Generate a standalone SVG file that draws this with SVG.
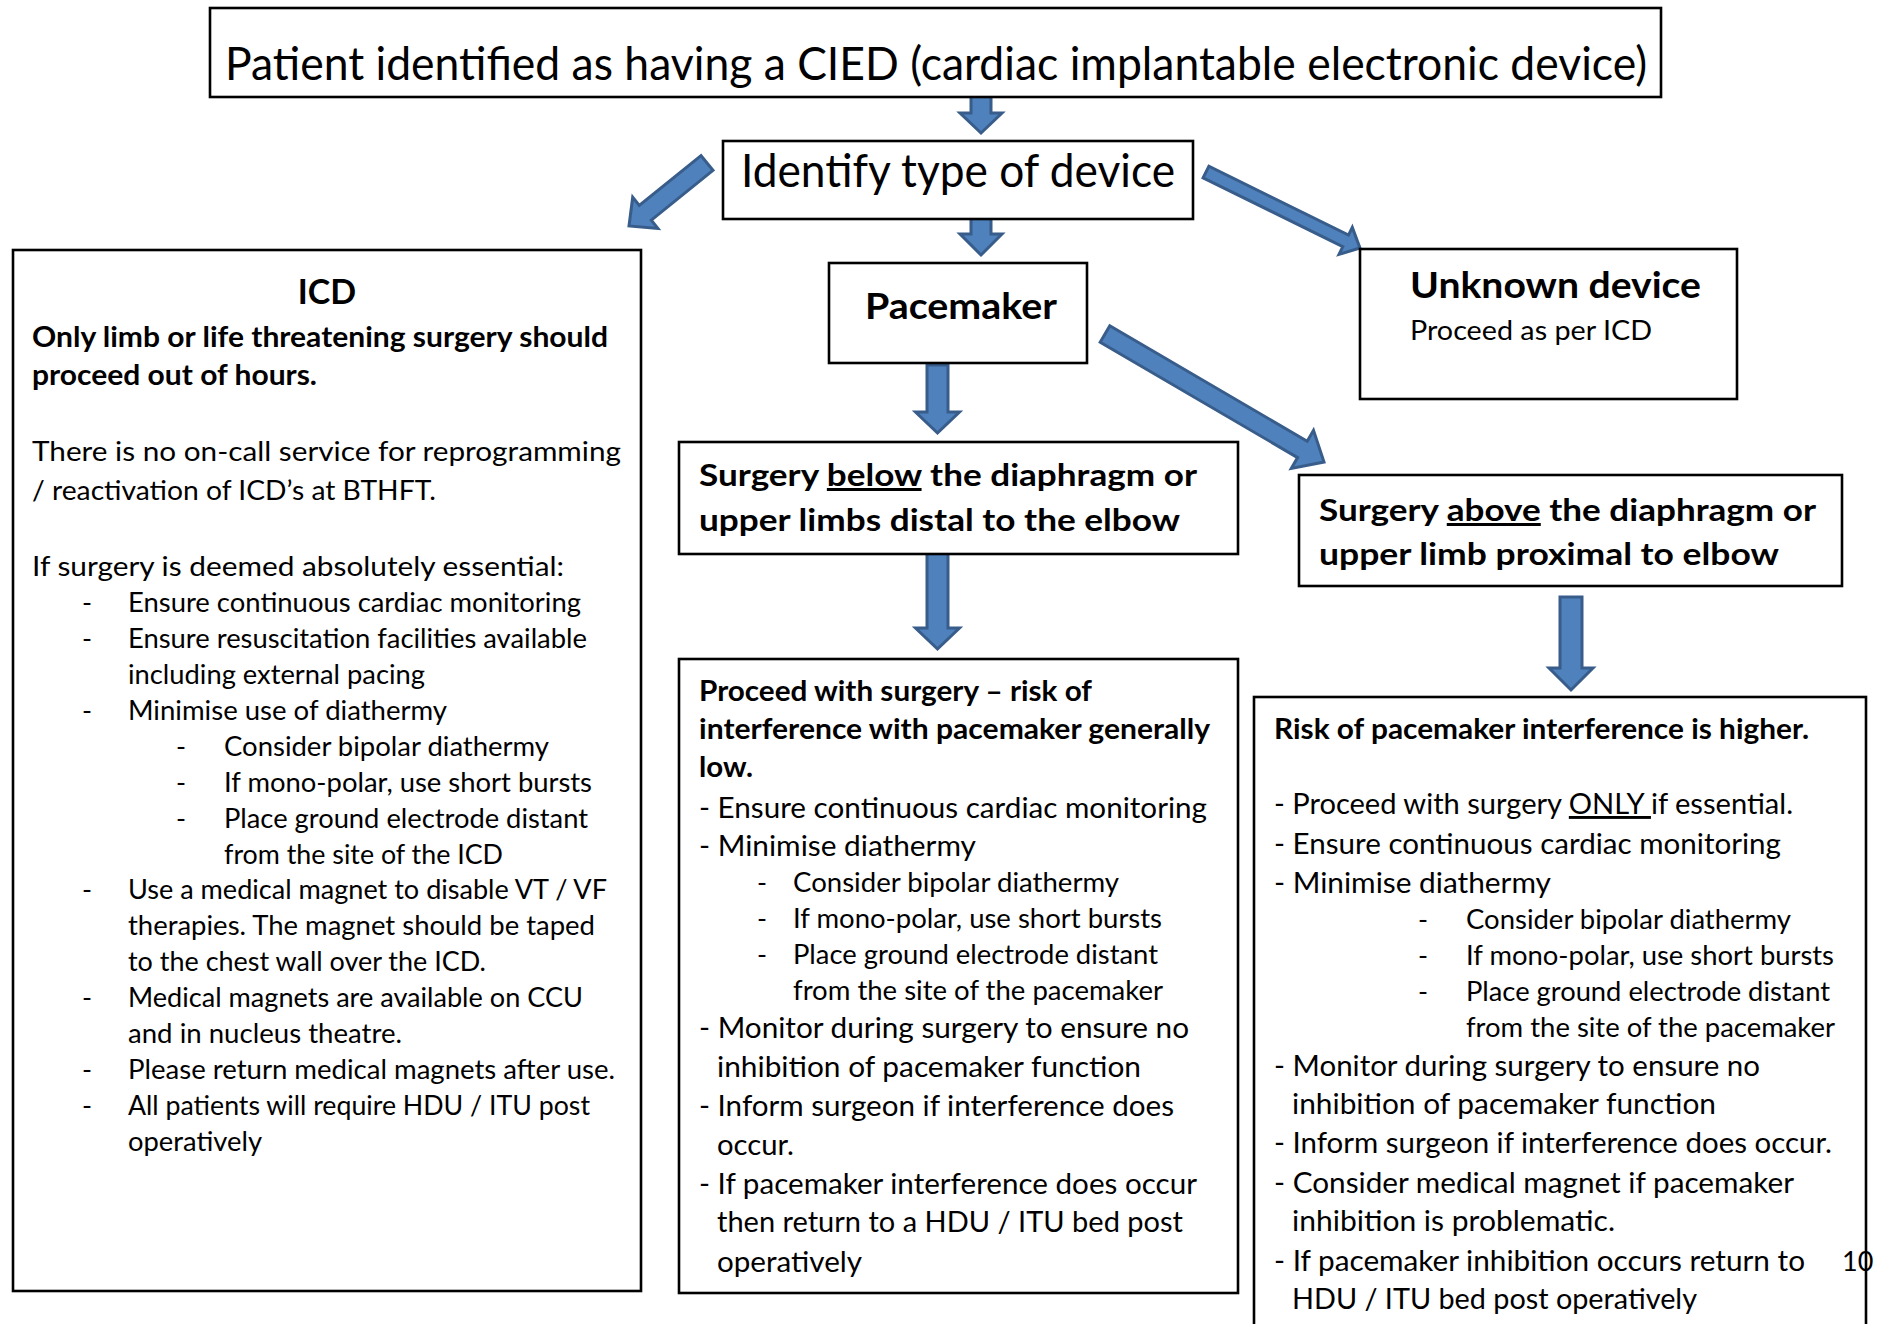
<svg xmlns="http://www.w3.org/2000/svg" width="1878" height="1324" viewBox="0 0 1878 1324">
<style>
text{font-family:Lato,"Open Sans",sans-serif;fill:#000}
.box{fill:#fff;stroke:#000;stroke-width:2.6}
.arr{fill:#4F81BD;stroke:#385D8A;stroke-width:3;stroke-linejoin:miter}
.t1{font-size:47px}
.hb{font-size:37px;font-weight:bold}
.sb{font-size:30px;font-weight:bold}
.ib{font-size:29px;font-weight:bold}
.ir{font-size:27px}
.pr{font-size:29px}
.pb{font-size:28px;font-weight:bold}
.u{text-decoration:underline}
</style>
<rect width="1878" height="1324" fill="#fff"/>
<g id="connectors">
<polygon class="arr" points="971,96 991,96 991,113 1002,113 981,133 960,113 971,113"/>
<polygon class="arr" points="971,218 991,218 991,234 1002,234 981,255 960,234 971,234"/>
<polygon class="arr" points="927,365 948,365 948,412 959.5,412 937.5,433 915.5,412 927,412"/>
<polygon class="arr" points="927,549 948,549 948,628 959.5,628 937.5,649 915.5,628 927,628"/>
<polygon class="arr" points="1560,597 1582,597 1582,668 1593,668 1571,690 1549,668 1560,668"/>
<polygon class="arr" points="701,155.6 639.3,205.4 632.7,197.2 629,226 657.9,228.4 651.3,220.2 713,170.4"/>
<polygon class="arr" points="1203.1,177.8 1342.8,246.7 1339,254.4 1360,248 1352.3,227.4 1348.5,235.1 1208.9,166.2"/>
<polygon class="arr" points="1100.2,342.2 1297.6,457.6 1291.3,468.4 1324,462 1313.5,430.4 1307.2,441.2 1109.8,325.8"/>
</g>
<g id="title">
<rect class="box" x="210" y="8" width="1451" height="89"/>
<text class="t1" x="225" y="80" textLength="1422" lengthAdjust="spacingAndGlyphs">Patient identified as having a CIED (cardiac implantable electronic device)</text>
</g>
<g id="identify">
<rect class="box" x="723" y="141" width="470" height="78"/>
<text class="t1" x="741" y="187" textLength="434" lengthAdjust="spacingAndGlyphs">Identify type of device</text>
</g>
<g id="icd">
<rect class="box" x="13" y="250" width="628" height="1041"/>
<text x="327" y="304" font-size="34" font-weight="bold" text-anchor="middle">ICD</text>
<text class="ib" x="32" y="347" textLength="576" lengthAdjust="spacingAndGlyphs">Only limb or life threatening surgery should</text>
<text class="ib" x="32" y="385" textLength="285" lengthAdjust="spacingAndGlyphs">proceed out of hours.</text>
<text class="ir" x="32" y="461" textLength="589" lengthAdjust="spacingAndGlyphs">There is no on-call service for reprogramming</text>
<text class="ir" x="32" y="500" textLength="404" lengthAdjust="spacingAndGlyphs">/ reactivation of ICD’s at BTHFT.</text>
<text class="ir" x="32" y="576" textLength="532" lengthAdjust="spacingAndGlyphs">If surgery is deemed absolutely essential:</text>
<g class="ir">
<text class="ir" x="82" y="612">-</text>
<text class="ir" x="82" y="648">-</text>
<text class="ir" x="82" y="720">-</text>
<text class="ir" x="176" y="756">-</text>
<text class="ir" x="176" y="792">-</text>
<text class="ir" x="176" y="828">-</text>
<text class="ir" x="82" y="899">-</text>
<text class="ir" x="82" y="1007">-</text>
<text class="ir" x="82" y="1079">-</text>
<text class="ir" x="82" y="1115">-</text>
</g>
<text class="ir" x="128" y="612" textLength="453" lengthAdjust="spacingAndGlyphs">Ensure continuous cardiac monitoring</text>
<text class="ir" x="128" y="648" textLength="459" lengthAdjust="spacingAndGlyphs">Ensure resuscitation facilities available</text>
<text class="ir" x="128" y="684" textLength="297" lengthAdjust="spacingAndGlyphs">including external pacing</text>
<text class="ir" x="128" y="720" textLength="319" lengthAdjust="spacingAndGlyphs">Minimise use of diathermy</text>
<text class="ir" x="224" y="756" textLength="325" lengthAdjust="spacingAndGlyphs">Consider bipolar diathermy</text>
<text class="ir" x="224" y="792" textLength="368" lengthAdjust="spacingAndGlyphs">If mono-polar, use short bursts</text>
<text class="ir" x="224" y="828" textLength="364" lengthAdjust="spacingAndGlyphs">Place ground electrode distant</text>
<text class="ir" x="224" y="864" textLength="279" lengthAdjust="spacingAndGlyphs">from the site of the ICD</text>
<text class="ir" x="128" y="899" textLength="479" lengthAdjust="spacingAndGlyphs">Use a medical magnet to disable VT / VF</text>
<text class="ir" x="128" y="935" textLength="467" lengthAdjust="spacingAndGlyphs">therapies. The magnet should be taped</text>
<text class="ir" x="128" y="971" textLength="358" lengthAdjust="spacingAndGlyphs">to the chest wall over the ICD.</text>
<text class="ir" x="128" y="1007" textLength="455" lengthAdjust="spacingAndGlyphs">Medical magnets are available on CCU</text>
<text class="ir" x="128" y="1043" textLength="274" lengthAdjust="spacingAndGlyphs">and in nucleus theatre.</text>
<text class="ir" x="128" y="1079" textLength="487" lengthAdjust="spacingAndGlyphs">Please return medical magnets after use.</text>
<text class="ir" x="128" y="1115" textLength="462" lengthAdjust="spacingAndGlyphs">All patients will require HDU / ITU post</text>
<text class="ir" x="128" y="1151" textLength="134" lengthAdjust="spacingAndGlyphs">operatively</text>
</g>
<g id="pacemaker">
<rect class="box" x="829" y="263" width="258" height="100"/>
<text class="hb" x="865" y="319" textLength="192" lengthAdjust="spacingAndGlyphs">Pacemaker</text>
</g>
<g id="unknown">
<rect class="box" x="1360" y="249" width="377" height="150"/>
<text class="hb" x="1410" y="298" textLength="291" lengthAdjust="spacingAndGlyphs">Unknown device</text>
<text class="ir" x="1410" y="340" textLength="242" lengthAdjust="spacingAndGlyphs">Proceed as per ICD</text>
</g>
<g id="below">
<rect class="box" x="679" y="442" width="559" height="112"/>
<text class="sb" x="699" y="486" textLength="498" lengthAdjust="spacingAndGlyphs">Surgery <tspan class="u">below</tspan> the diaphragm or</text>
<text class="sb" x="699" y="531" textLength="481" lengthAdjust="spacingAndGlyphs">upper limbs distal to the elbow</text>
</g>
<g id="above">
<rect class="box" x="1299" y="475" width="543" height="111"/>
<text class="sb" x="1319" y="521" textLength="497" lengthAdjust="spacingAndGlyphs">Surgery <tspan class="u">above</tspan> the diaphragm or</text>
<text class="sb" x="1319" y="565" textLength="460" lengthAdjust="spacingAndGlyphs">upper limb proximal to elbow</text>
</g>
<g id="proceed">
<rect class="box" x="679" y="659" width="559" height="634"/>
<text class="pb" x="699" y="701" textLength="393" lengthAdjust="spacingAndGlyphs">Proceed with surgery – risk of</text>
<text class="pb" x="699" y="739" textLength="511" lengthAdjust="spacingAndGlyphs">interference with pacemaker generally</text>
<text class="pb" x="699" y="777" textLength="54" lengthAdjust="spacingAndGlyphs">low.</text>
<text class="pr" x="699" y="818" textLength="508" lengthAdjust="spacingAndGlyphs">- Ensure continuous cardiac monitoring</text>
<text class="pr" x="699" y="856" textLength="277" lengthAdjust="spacingAndGlyphs">- Minimise diathermy</text>
<text class="ir" x="757" y="892">-</text>
<text class="ir" x="757" y="928">-</text>
<text class="ir" x="757" y="964">-</text>
<text class="ir" x="793" y="892" textLength="326" lengthAdjust="spacingAndGlyphs">Consider bipolar diathermy</text>
<text class="ir" x="793" y="928" textLength="369" lengthAdjust="spacingAndGlyphs">If mono-polar, use short bursts</text>
<text class="ir" x="793" y="964" textLength="365" lengthAdjust="spacingAndGlyphs">Place ground electrode distant</text>
<text class="ir" x="793" y="1000" textLength="370" lengthAdjust="spacingAndGlyphs">from the site of the pacemaker</text>
<text class="pr" x="699" y="1038" textLength="490" lengthAdjust="spacingAndGlyphs">- Monitor during surgery to ensure no</text>
<text class="pr" x="717" y="1077" textLength="424" lengthAdjust="spacingAndGlyphs">inhibition of pacemaker function</text>
<text class="pr" x="699" y="1116" textLength="475" lengthAdjust="spacingAndGlyphs">- Inform surgeon if interference does</text>
<text class="pr" x="717" y="1155" textLength="77" lengthAdjust="spacingAndGlyphs">occur.</text>
<text class="pr" x="699" y="1194" textLength="498" lengthAdjust="spacingAndGlyphs">- If pacemaker interference does occur</text>
<text class="pr" x="717" y="1232" textLength="466" lengthAdjust="spacingAndGlyphs">then return to a HDU / ITU bed post</text>
<text class="pr" x="717" y="1272" textLength="145" lengthAdjust="spacingAndGlyphs">operatively</text>
</g>
<g id="risk">
<rect class="box" x="1254" y="697" width="612" height="660"/>
<text class="pb" x="1274" y="739" textLength="535" lengthAdjust="spacingAndGlyphs">Risk of pacemaker interference is higher.</text>
<text class="pr" x="1274" y="814" textLength="519" lengthAdjust="spacingAndGlyphs">- Proceed with surgery <tspan class="u">ONLY </tspan>if essential.</text>
<text class="pr" x="1274" y="854" textLength="507" lengthAdjust="spacingAndGlyphs">- Ensure continuous cardiac monitoring</text>
<text class="pr" x="1274" y="893" textLength="277" lengthAdjust="spacingAndGlyphs">- Minimise diathermy</text>
<text class="ir" x="1418" y="929">-</text>
<text class="ir" x="1418" y="965">-</text>
<text class="ir" x="1418" y="1001">-</text>
<text class="ir" x="1466" y="929" textLength="325" lengthAdjust="spacingAndGlyphs">Consider bipolar diathermy</text>
<text class="ir" x="1466" y="965" textLength="368" lengthAdjust="spacingAndGlyphs">If mono-polar, use short bursts</text>
<text class="ir" x="1466" y="1001" textLength="364" lengthAdjust="spacingAndGlyphs">Place ground electrode distant</text>
<text class="ir" x="1466" y="1037" textLength="369" lengthAdjust="spacingAndGlyphs">from the site of the pacemaker</text>
<text class="pr" x="1274" y="1076" textLength="486" lengthAdjust="spacingAndGlyphs">- Monitor during surgery to ensure no</text>
<text class="pr" x="1292" y="1114" textLength="424" lengthAdjust="spacingAndGlyphs">inhibition of pacemaker function</text>
<text class="pr" x="1274" y="1153" textLength="558" lengthAdjust="spacingAndGlyphs">- Inform surgeon if interference does occur.</text>
<text class="pr" x="1274" y="1193" textLength="520" lengthAdjust="spacingAndGlyphs">- Consider medical magnet if pacemaker</text>
<text class="pr" x="1292" y="1231" textLength="323" lengthAdjust="spacingAndGlyphs">inhibition is problematic.</text>
<text class="pr" x="1274" y="1271" textLength="531" lengthAdjust="spacingAndGlyphs">- If pacemaker inhibition occurs return to</text>
<text class="pr" x="1292" y="1309" textLength="405" lengthAdjust="spacingAndGlyphs">HDU / ITU bed post operatively</text>
</g>
<text class="ir" x="1842" y="1271">10</text>
</svg>
